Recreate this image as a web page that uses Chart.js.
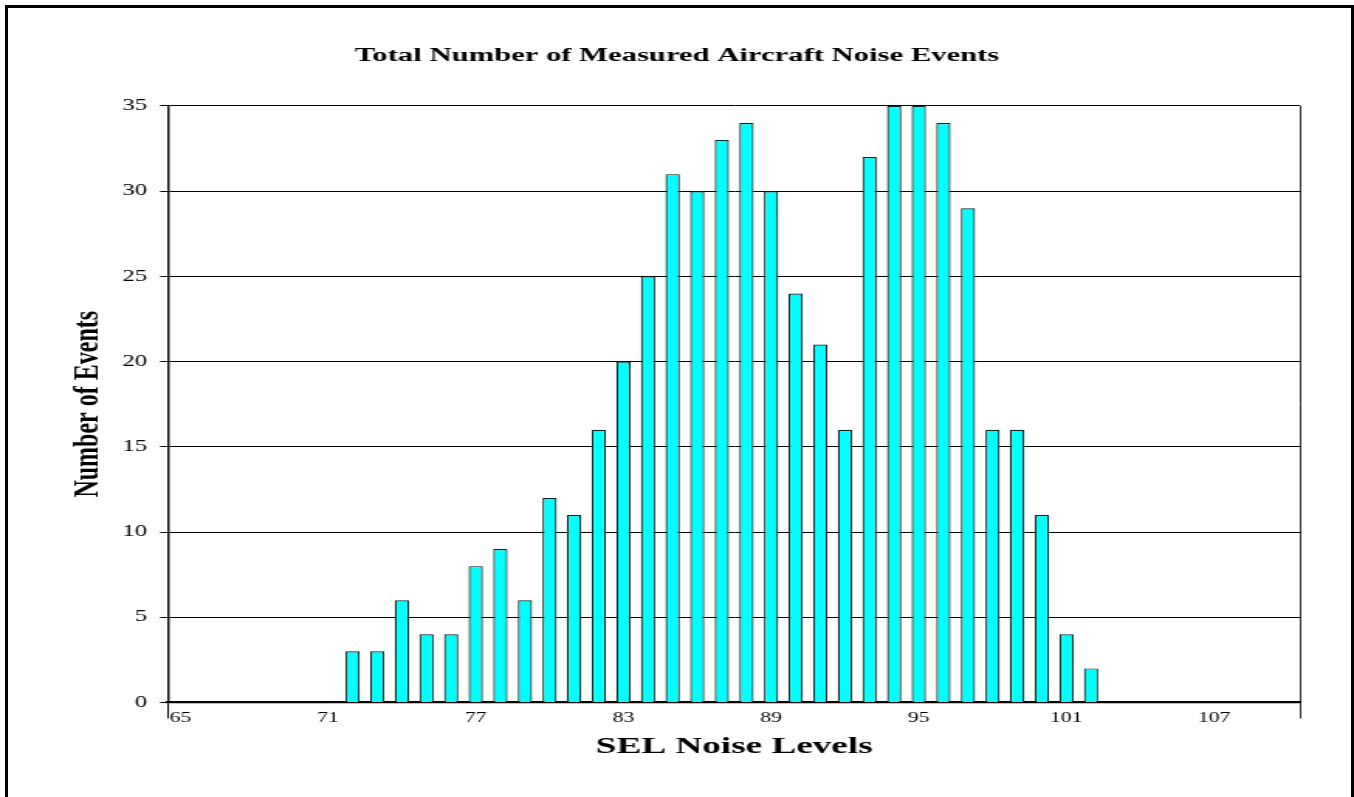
<!DOCTYPE html>
<html>
<head>
<meta charset="utf-8">
<script src="https://cdn.jsdelivr.net/npm/chart.js@4.4.1/dist/chart.umd.min.js"></script>
<style>
  html, body { margin: 0; padding: 0; background: #fff; overflow: hidden; }
  #wrap { position: relative; width: 1354px; height: 797px; }
  #c { position: absolute; left: 0; top: 0; width: 1354px; height: 797px; }
  #frame { position: absolute; left: 5px; top: 5px; width: 1343px; height: 820px;
           border: 3px solid #000; pointer-events: none; }
</style>
</head>
<body>
<div id="wrap">
  <canvas id="c" width="874" height="797" style="width:1354px;height:797px;"></canvas>
  <div id="frame"></div>
</div>
<script>
// ---- data ----
const categories = ['65','66','67','68','69','70','71','72','73','74','75','76','77','78','79','80',
  '81','82','83','84','85','86','87','88','89','90','91','92','93','94','95','96','97','98','99','100',
  '101','102','103','104','105','106','107','108','109','110'];
const eventCounts = [null,null,null,null,null,null,null,3,3,6,4,4,8,9,6,12,
  11,16,20,25,31,30,33,34,30,24,21,16,32,35,35,34,29,16,16,11,
  4,2,null,null,null,null,null,null,null,null];
const xTickLabels = ['65','71','77','83','89','95','101','107'];
const yTicks = [0, 5, 10, 15, 20, 25, 30, 35];

const chartTitle = 'Total Number of Measured Aircraft Noise Events';
const xTitle = 'SEL Noise Levels';
const yTitle = 'Number of Events';

const SERIF = "'Liberation Serif', 'Times New Roman', serif";

new Chart(document.getElementById('c'), {
  type: 'bar',
  data: {
    labels: categories,
    datasets: [{
      data: eventCounts,
      backgroundColor: '#00FFFF',
      borderColor: '#0a2626',
      borderWidth: 1.2,
      borderSkipped: 'bottom',
      barPercentage: 0.58,
      categoryPercentage: 1.0
    }]
  },
  options: {
    responsive: false,
    devicePixelRatio: 1,
    animation: false,
    layout: { padding: { top: 0, left: 34.7, right: 34.7, bottom: 0 } },
    plugins: {
      legend: { display: false },
      tooltip: { enabled: false },
      title: {
        display: true,
        text: chartTitle,
        color: '#000',
        font: { family: SERIF, size: 19.8, weight: 'bold', lineHeight: 1.2 },
        padding: { top: 44, bottom: 38.2 }
      }
    },
    scales: {
      x: {
        offset: true,
        afterFit: (s) => { s.height = 94.5; },
        border: { display: true, color: '#000', width: 2.2 },
        grid: {
          display: true,
          offset: true,
          drawOnChartArea: true,
          drawTicks: true,
          tickLength: 16,
          lineWidth: 1,
          color: (ctx) => {
            if (ctx.type !== 'tick') return '#333';
            return ctx.index === 0 ? '#000' : 'rgba(0,0,0,0)';
          }
        },
        ticks: {
          autoSkip: false,
          maxRotation: 0,
          minRotation: 0,
          padding: -8.9,
          color: '#000',
          font: { family: SERIF, size: 14, lineHeight: 1.2 },
          callback: function (value) {
            const lab = this.getLabelForValue(value);
            return xTickLabels.includes(lab) ? lab : '';
          }
        },
        title: {
          display: true,
          text: xTitle,
          color: '#000',
          font: { family: SERIF, size: 24, weight: 'bold', lineHeight: 1.2 },
          padding: { top: 0, bottom: 36.2 }
        }
      },
      y: {
        min: 0,
        max: 35,
        afterFit: (s) => { s.width = 73.8; },
        afterBuildTicks: (s) => { s.ticks = yTicks.map(v => ({ value: v })); },
        border: { display: true, color: '#000', width: 1.4 },
        grid: {
          color: '#000',
          lineWidth: 1,
          tickLength: 5.2,
          drawTicks: true
        },
        ticks: {
          padding: 8.4,
          color: '#000',
          font: { family: SERIF, size: 16, lineHeight: 1.2 }
        },
        title: {
          display: true,
          text: yTitle,
          color: '#000',
          font: { family: SERIF, size: 24, weight: 'bold', lineHeight: 1.2 },
          padding: { top: 7.9, bottom: 0 }
        }
      }
    }
  }
});
</script>
</body>
</html>
